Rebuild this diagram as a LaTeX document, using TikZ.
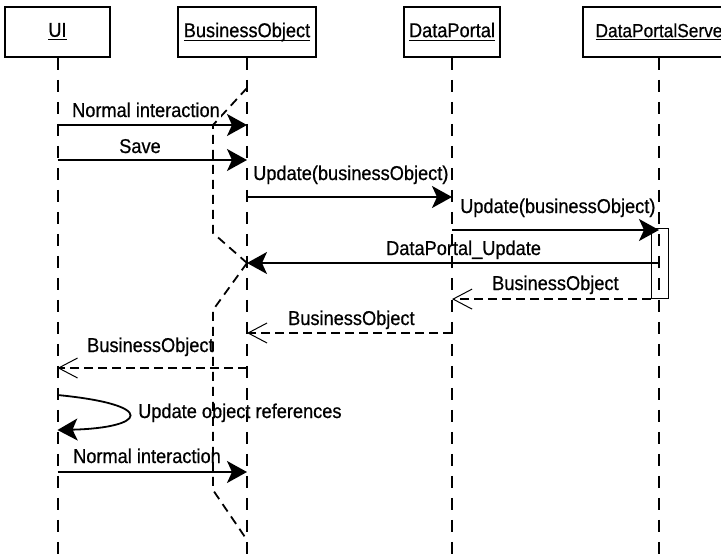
\documentclass[tikz,border=0pt]{standalone}
\usepackage{amsmath}
\usepackage{fontspec}
\setmainfont{Liberation Sans}[FakeStretch=0.91, FakeBold=0.6]
\usepackage{tikz}
\usetikzlibrary{arrows.meta}
\newcommand{\lblfont}{\fontsize{20}{22}\selectfont}
\newcommand{\utitle}[1]{\underline{\smash[b]{#1}}}

\begin{document}
\begin{tikzpicture}[x=1pt, y=-1pt,
    every node/.style={font=\lblfont},
    objbox/.style={draw, line width=1.6pt, minimum width=#1, minimum height=50pt, inner sep=0pt},
    lifeline/.style={line width=2pt, dash pattern=on 12pt off 10pt},
    ghost/.style={line width=1.8pt, dash pattern=on 9pt off 6pt},
    actbox/.style={draw, line width=1.2pt, minimum width=17pt, minimum height=70pt, inner sep=0pt},
    msg/.style={line width=1.8pt, -{Stealth[length=20pt, width=22pt, inset=5pt]}},
    reply/.style={line width=1.8pt, dash pattern=on 9pt off 5pt,
                  -{Straight Barb[length=19pt, width=20pt, line width=1pt]}},
    lbl/.style={inner sep=0pt},
    opaque/.style={fill=white, inner sep=1pt}]
        \clip (0,0) rectangle (721,560);
        % objects
        \node[objbox=105pt] (ui) at (57.5,32) {\utitle{UI}};
        \node[objbox=138pt] (bo) at (247,32) {\utitle{BusinessObject}};
        \node[objbox=96pt] (dp) at (452,32) {\utitle{DataPortal}};
        \node[objbox=152pt] (dps) at (659,32)
          {\fontsize{19}{21}\selectfont\utitle{DataPortalServe}\hspace{11pt}};

        % lifelines
        \coordinate (bottom) at (0,562);
        \draw[lifeline] (ui) -- (ui |- bottom);
        \draw[lifeline] (bo) -- (bo |- bottom);
        \draw[lifeline] (dp) -- (dp |- bottom);
        \draw[lifeline] (dps) -- (dps |- bottom);

        % old business object copy
        \draw[ghost] (247,88) -- (213,125) -- (213,233) -- (247,263);
        \draw[ghost] (247,263) -- (213,310) -- (213,490) -- (247,540);

        % message rows
        \coordinate (r1) at (0,125);
        \coordinate (r2) at (0,160);
        \coordinate (r3) at (0,197);
        \coordinate (r4) at (0,230);
        \coordinate (r5) at (0,263);
        \coordinate (r7) at (0,333);
        \coordinate (r8) at (0,368);
        \coordinate (r9a) at (0,395);
        \coordinate (r9b) at (0,430);
        \coordinate (r10) at (0,472);

        \node[actbox] (act) at (660,263.5) {};

        \draw[msg] (ui |- r1) -- (bo |- r1);
        \draw[msg] (ui |- r2) -- (bo |- r2);
        \draw[msg] (bo |- r3) -- (dp |- r3);
        \draw[msg] (dp |- r4) -- (dps |- r4);
        \draw[msg] (dps |- r5) -- (bo |- r5);
        \draw[reply] (act.south west) -- (dp |- act.south west);
        \draw[reply] (dp |- r7) -- (bo |- r7);
        \draw[reply] (bo |- r8) -- (ui |- r8);
        \draw[msg] (ui |- r9a) .. controls (160,405) and (145,428) .. (ui |- r9b);
        \draw[msg] (ui |- r10) -- (bo |- r10);

        % labels
        \node[lbl, opaque, anchor=base] (l1) at (146,117) {Normal interaction};
        \node[lbl, anchor=base] (l2) at (140,153) {Save};
        \node[lbl, anchor=base west] (l3) at (253,180) {Update(businessObject)};
        \node[lbl, anchor=base west] (l4) at (460,213) {Update(businessObject)};
        \node[lbl, anchor=base west] (l5) at (386,255) {DataPortal\_Update};
        \node[lbl, anchor=base west] (l6) at (492,290) {BusinessObject};
        \node[lbl, anchor=base west] (l7) at (288,325) {BusinessObject};
        \node[lbl, anchor=base west] (l8) at (87,352) {BusinessObject};
        \node[lbl, anchor=base west] (l9) at (138,418) {Update object references};
        \node[lbl, anchor=base west] (l10) at (73,463) {Normal interaction};
\end{tikzpicture}
\end{document}
